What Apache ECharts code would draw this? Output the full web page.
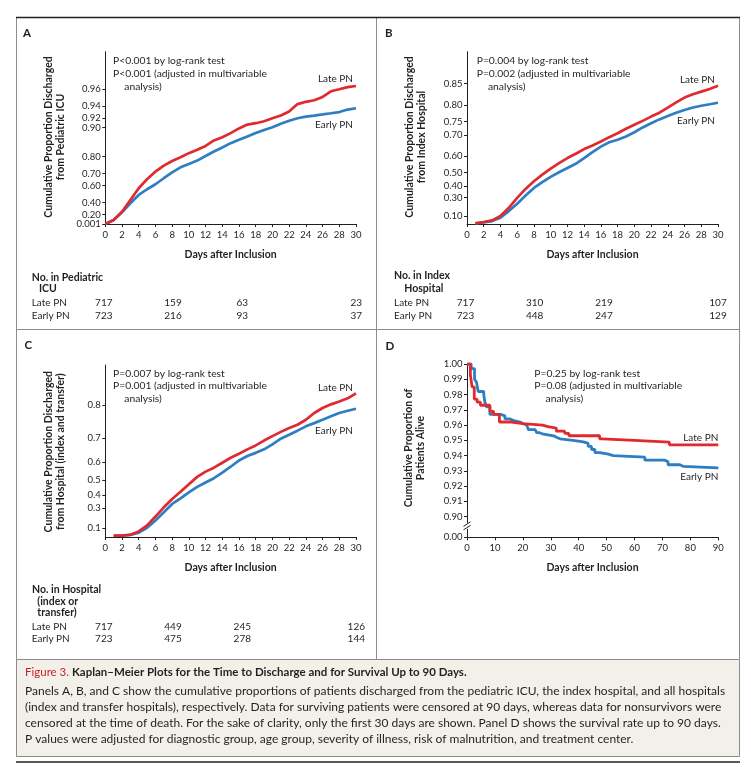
<!DOCTYPE html>
<html><head><meta charset="utf-8">
<script src="https://cdn.jsdelivr.net/npm/echarts@6/dist/echarts.min.js"></script>
<style>html,body{margin:0;padding:0;background:#fff}#c{width:751px;height:767px}</style>
</head><body><div id="c"></div>
<script>
// ---------- DATA ----------
const daysA = [0,1,2,3,4,5,6,7,8,9,10,11,12,13,14,15,16,17,18,19,20,21,22,23,24,25,26,27,28,29,30];
const aLate  = [0,0.091,0.255,0.437,0.574,0.657,0.714,0.752,0.778,0.797,0.816,0.830,0.845,0.864,0.874,0.886,0.898,0.907,0.910,0.914,0.920,0.925,0.932,0.943,0.946,0.948,0.952,0.958,0.960,0.962,0.963];
const aEarly = [0,0.091,0.243,0.390,0.500,0.564,0.613,0.665,0.709,0.742,0.762,0.780,0.803,0.823,0.839,0.855,0.866,0.876,0.886,0.894,0.901,0.909,0.915,0.920,0.923,0.925,0.927,0.929,0.931,0.935,0.937];
const daysBC = [1,2,3,4,5,6,7,8,9,10,11,12,13,14,15,16,17,18,19,20,21,22,23,24,25,26,27,28,29,30];
const bLate  = [0.009,0.027,0.048,0.102,0.197,0.298,0.378,0.439,0.487,0.527,0.561,0.590,0.613,0.637,0.654,0.672,0.691,0.707,0.724,0.739,0.752,0.766,0.778,0.793,0.807,0.819,0.827,0.833,0.839,0.846];
const bEarly = [0.009,0.022,0.039,0.082,0.160,0.239,0.320,0.386,0.432,0.471,0.503,0.531,0.557,0.590,0.622,0.649,0.669,0.680,0.694,0.711,0.729,0.744,0.757,0.768,0.778,0.786,0.793,0.798,0.802,0.806];
const cLate  = [0.016,0.016,0.028,0.066,0.132,0.221,0.304,0.371,0.424,0.475,0.520,0.550,0.571,0.596,0.620,0.638,0.657,0.673,0.692,0.708,0.723,0.736,0.746,0.761,0.780,0.793,0.802,0.809,0.816,0.827];
const cEarly = [0.016,0.016,0.024,0.051,0.107,0.183,0.261,0.332,0.376,0.420,0.458,0.486,0.512,0.544,0.576,0.607,0.628,0.642,0.657,0.677,0.699,0.713,0.727,0.741,0.751,0.761,0.771,0.780,0.786,0.791];
const dLateT  = [0,1.2,1.8,2.6,3.6,4.8,8.2,9.5,11.6,16,20,27,29,32,35,36.5,47.5,48.5,60,72.5,90];
const dLateS  = [1.000,0.993,0.985,0.977,0.975,0.973,0.969,0.967,0.962,0.961,0.960,0.959,0.958,0.956,0.9545,0.953,0.951,0.950,0.9488,0.947,0.947];
const dEarlyT = [0,1.5,2.7,3.4,4.0,6.0,6.4,7.0,8.2,12,13.6,15.4,16.7,19,20,21.4,22,24.4,25,26,27.4,31,32,33.3,38,41.7,43.4,44.6,45.8,47.6,50.6,52.4,63.7,70.9,72,76.2,77.4,90];
const dEarlyS = [1.000,0.997,0.990,0.988,0.982,0.980,0.975,0.972,0.967,0.966,0.964,0.963,0.962,0.961,0.960,0.959,0.957,0.956,0.955,0.954,0.953,0.952,0.951,0.950,0.949,0.948,0.946,0.944,0.942,0.941,0.940,0.939,0.937,0.936,0.934,0.933,0.932,0.932];

const aTicks = ['0.001','0.20','0.40','0.60','0.70','0.80','0.90','0.92','0.94','0.96'];
const bTicks = ['0.10','0.30','0.40','0.50','0.60','0.70','0.75','0.80','0.85'];
const cTicks = ['0.1','0.3','0.4','0.5','0.6','0.7','0.8'];
const dTicks = ['0.90','0.91','0.92','0.93','0.94','0.95','0.96','0.97','0.98','0.99','1.00'];
const dBreakLabel = '0.00';

const aRiskLate = [717,159,63,23],  aRiskEarly = [723,216,93,37];
const bRiskLate = [717,310,219,107], bRiskEarly = [723,448,247,129];
const cRiskLate = [717,449,245,126], cRiskEarly = [723,475,278,144];

// ---------- LAYOUT / STYLE ----------
const RED = '#df2a30', BLUE = '#2e7ec3', INK = '#231f20', BORDER = '#8c8c8c';
const FONT = 'Lato';
const tr = p => -Math.log(1 - p);
const dMin = 0.8865, dBreakAt = 0.894;

const grids = [
  {left:105.3, top:51.7, width:250.7, height:172.3},
  {left:467,   top:51.7, width:251,   height:172.3},
  {left:105.3, top:365,  width:250.7, height:172},
  {left:467,   top:364,  width:251.3, height:173.3}
].map(g => Object.assign({outerBoundsMode:'none', containLabel:false}, g));

function xAx(i, max, interval){
  return {gridIndex:i, type:'value', min:0, max:max, interval:interval,
    axisLine:{show:true, onZero:false, lineStyle:{color:INK, width:1}},
    axisTick:{show:true, inside:false, length:3, lineStyle:{color:INK}},
    axisLabel:{fontSize:9.5, margin:6, color:INK, fontFamily:FONT, showMinLabel:true, showMaxLabel:true},
    splitLine:{show:false}};
}
function yAx(i, min, max, vals){
  return {gridIndex:i, type:'value', min:min, max:max,
    axisLine:{show:true, onZero:false, lineStyle:{color:INK, width:1}},
    axisTick:{show:true, inside:false, length:3, customValues:vals, lineStyle:{color:INK}},
    axisLabel:{show:false},
    splitLine:{show:false}};
}
const aVals = aTicks.map(s => tr(parseFloat(s)));
const bVals = bTicks.map(s => tr(parseFloat(s)));
const cVals = cTicks.map(s => tr(parseFloat(s)));
const dVals = [dMin].concat(dTicks.map(Number));
const dLabels = [dBreakLabel].concat(dTicks);

// tick labels placed through the axis scale
function tickLabels(i, vals, labels){
  return {type:'custom', xAxisIndex:i, yAxisIndex:i, data: vals.map(v => [0, v]), silent:true, clip:false, z:5,
    renderItem:(params, api) => {
      const p = api.coord([0, api.value(1)]);
      return {type:'text', x:p[0]-4.5, y:p[1], style:{text:labels[params.dataIndex], align:'right', verticalAlign:'middle',
        fontSize:9.5, fontFamily:FONT, fill:INK}};
    }};
}

function lineS(i, xs, ys, color, transform){
  return {type:'line', xAxisIndex:i, yAxisIndex:i, showSymbol:false, symbol:'none',
    data: xs.map((x,k)=>[x, transform ? tr(ys[k]) : ys[k]]),
    lineStyle:{color:color, width:2.7}, itemStyle:{color:color}, animation:false, silent:true, z:3};
}
function stepS(xs, ys, color){
  return {type:'line', xAxisIndex:3, yAxisIndex:3, step:'end', showSymbol:false, symbol:'none',
    data: xs.map((x,k)=>[x, ys[k]]),
    lineStyle:{color:color, width:2.8}, itemStyle:{color:color}, animation:false, silent:true, z:3};
}

// ---------- GRAPHIC HELPERS ----------
function T(x, y, text, o){
  o = o || {};
  return {type:'text', x:x, y:y, rotation:o.rot||0, z:20, silent:true,
    style:{text:text, fontSize:o.size||10, fontWeight:o.bold?'bold':'normal', fontFamily:FONT,
      fill:o.fill||INK, align:o.align||'left', verticalAlign:'middle', lineHeight:o.lh||12}};
}
function L(x1,y1,x2,y2,color,w){
  return {type:'line', z:1, silent:true, shape:{x1:x1,y1:y1,x2:x2,y2:y2}, style:{stroke:color, lineWidth:w||1}};
}
const gfx = [];
// frame
gfx.push({type:'rect', z:0, silent:true, shape:{x:16.5, y:659.5, width:723, height:97}, style:{fill:'#f3f0ea', stroke:BORDER, lineWidth:1}});
gfx.push(L(16.5,17,16.5,659.5,BORDER));
gfx.push(L(739.5,17,739.5,659.5,BORDER));
gfx.push(L(16.5,329.5,739.5,329.5,BORDER));
gfx.push(L(376.5,17,376.5,659.5,BORDER));
gfx.push(L(16,17.5,740,17.5,INK,1.4));
gfx.push(L(16,762,740,762,INK,1.4));

// panel letters
gfx.push(T(23,33,'A',{bold:true,size:11.5}));
gfx.push(T(385,33.5,'B',{bold:true,size:11.5}));
gfx.push(T(24.5,345.5,'C',{bold:true,size:11.5}));
gfx.push(T(385.5,346,'D',{bold:true,size:11.5}));

// y-axis titles
const ttl = {bold:true, size:10.5, rot:Math.PI/2, align:'center', lh:12.5};
gfx.push(T(54.5,137,'Cumulative Proportion Discharged\nfrom Pediatric ICU',ttl));
gfx.push(T(415.5,137,'Cumulative Proportion Discharged\nfrom Index Hospital',ttl));
gfx.push(T(54.5,451.7,'Cumulative Proportion Discharged\nfrom Hospital (index and transfer)',ttl));
gfx.push(T(414.5,448,'Cumulative Proportion of\nPatients Alive',ttl));

// x-axis titles
const xt = {bold:true, size:10.5, align:'center'};
gfx.push(T(230.6,255,'Days after Inclusion',xt));
gfx.push(T(592.5,255,'Days after Inclusion',xt));
gfx.push(T(230.6,567.7,'Days after Inclusion',xt));
gfx.push(T(592.5,567.7,'Days after Inclusion',xt));

// P-value notes
function notes(x, y, l1, l2){
  const o = {size:10.3};
  gfx.push(T(x, y, l1, o));
  gfx.push(T(x, y+12.6, l2, o));
  gfx.push(T(x+11.3, y+25.2, 'analysis)', o));
}
notes(113, 61, 'P<0.001 by log-rank test', 'P<0.001 (adjusted in multivariable');
notes(476.7, 61, 'P=0.004 by log-rank test', 'P=0.002 (adjusted in multivariable');
notes(113, 373.5, 'P=0.007 by log-rank test', 'P=0.001 (adjusted in multivariable');
notes(534.3, 373.5, 'P=0.25 by log-rank test', 'P=0.08 (adjusted in multivariable');

// curve labels
const rl = {align:'right'};
gfx.push(T(353,79,'Late PN',rl));   gfx.push(T(353,124.7,'Early PN',rl));
gfx.push(T(715,80,'Late PN',rl));   gfx.push(T(715,121,'Early PN',rl));
gfx.push(T(353,387.3,'Late PN',rl)); gfx.push(T(353,430.7,'Early PN',rl));
gfx.push(T(718.3,437.3,'Late PN',rl)); gfx.push(T(718.3,476.7,'Early PN',rl));

// risk tables
const colOff = [-1.5, 67.7, 137, 251];
function table(x0, gl, heads, yLate, late, early){
  heads.forEach(h => gfx.push(T(h[0], h[1], h[2], {bold:true, size:10.5})));
  gfx.push(T(x0, yLate, 'Late PN'));
  gfx.push(T(x0, yLate+12.5, 'Early PN'));
  late.forEach((v,k) => gfx.push(T(gl+colOff[k], yLate, String(v), {align:'center'})));
  early.forEach((v,k) => gfx.push(T(gl+colOff[k], yLate+12.5, String(v), {align:'center'})));
}
table(31.7, 105.3, [[31.7,277.3,'No. in Pediatric'],[39,288.7,'ICU']], 303, aRiskLate, aRiskEarly);
table(394, 467, [[394,276,'No. in Index'],[404.3,288.7,'Hospital']], 303, bRiskLate, bRiskEarly);
table(31.7, 105.3, [[32,590,'No. in Hospital'],[37.3,601.5,'(index or'],[37.3,613,'transfer)']], 626.5, cRiskLate, cRiskEarly);

// caption
gfx.push({type:'text', x:25, y:672, z:20, silent:true, style:{
  text:'{r|Figure 3.} {b|Kaplan\u2013Meier Plots for the Time to Discharge and for Survival Up to 90 Days.}',
  verticalAlign:'middle', fontFamily:FONT, fontSize:11.5,
  rich:{r:{fill:'#c8202a', fontSize:11.5, fontFamily:FONT}, b:{fill:INK, fontWeight:'bold', fontSize:11.5, fontFamily:FONT}}}});
const capLines = [
 'Panels A, B, and C show the cumulative proportions of patients discharged from the pediatric ICU, the index hospital, and all hospitals',
 '(index and transfer hospitals), respectively. Data for surviving patients were censored at 90 days, whereas data for nonsurvivors were',
 'censored at the time of death. For the sake of clarity, only the first 30 days are shown. Panel D shows the survival rate up to 90 days.',
 'P values were adjusted for diagnostic group, age group, severity of illness, risk of malnutrition, and treatment center.'
];
capLines.forEach((s,k) => gfx.push(T(25, 691 + k*16.2, s, {size:12})));

// ---------- CHART ----------
const chart = echarts.init(document.getElementById('c'), null, {renderer:'canvas'});
chart.setOption({
  animation:false,
  backgroundColor:'#ffffff',
  textStyle:{fontFamily:FONT, color:INK},
  grid: grids,
  xAxis:[xAx(0,30,2), xAx(1,30,2), xAx(2,30,2), xAx(3,90,10)],
  yAxis:[yAx(0,0,4.116,aVals), yAx(1,0,2.33,bVals), yAx(2,0,2.10,cVals), yAx(3,dMin,1.0,dVals)],
  series:[
    lineS(0, daysA, aEarly, BLUE, true), lineS(0, daysA, aLate, RED, true),
    lineS(1, daysBC, bEarly, BLUE, true), lineS(1, daysBC, bLate, RED, true),
    lineS(2, daysBC, cEarly, BLUE, true), lineS(2, daysBC, cLate, RED, true),
    stepS(dEarlyT, dEarlyS, BLUE), stepS(dLateT, dLateS, RED),
    tickLabels(0, aVals, aTicks), tickLabels(1, bVals, bTicks), tickLabels(2, cVals, cTicks), tickLabels(3, dVals, dLabels),
    {type:'custom', xAxisIndex:3, yAxisIndex:3, data:[[0, dBreakAt]], silent:true, z:10, clip:false,
     renderItem:(params, api) => {
       const p = api.coord([0, api.value(1)]);
       return {type:'group', children:[
         {type:'rect', shape:{x:p[0]-2, y:p[1]-3, width:4, height:6}, style:{fill:'#ffffff'}},
         {type:'line', shape:{x1:p[0]-3.5, y1:p[1]+0.5, x2:p[0]+3.5, y2:p[1]-4}, style:{stroke:INK, lineWidth:1}},
         {type:'line', shape:{x1:p[0]-3.5, y1:p[1]+4, x2:p[0]+3.5, y2:p[1]-0.5}, style:{stroke:INK, lineWidth:1}}
       ]};
     }}
  ],
  graphic: gfx
});
</script></body></html>
